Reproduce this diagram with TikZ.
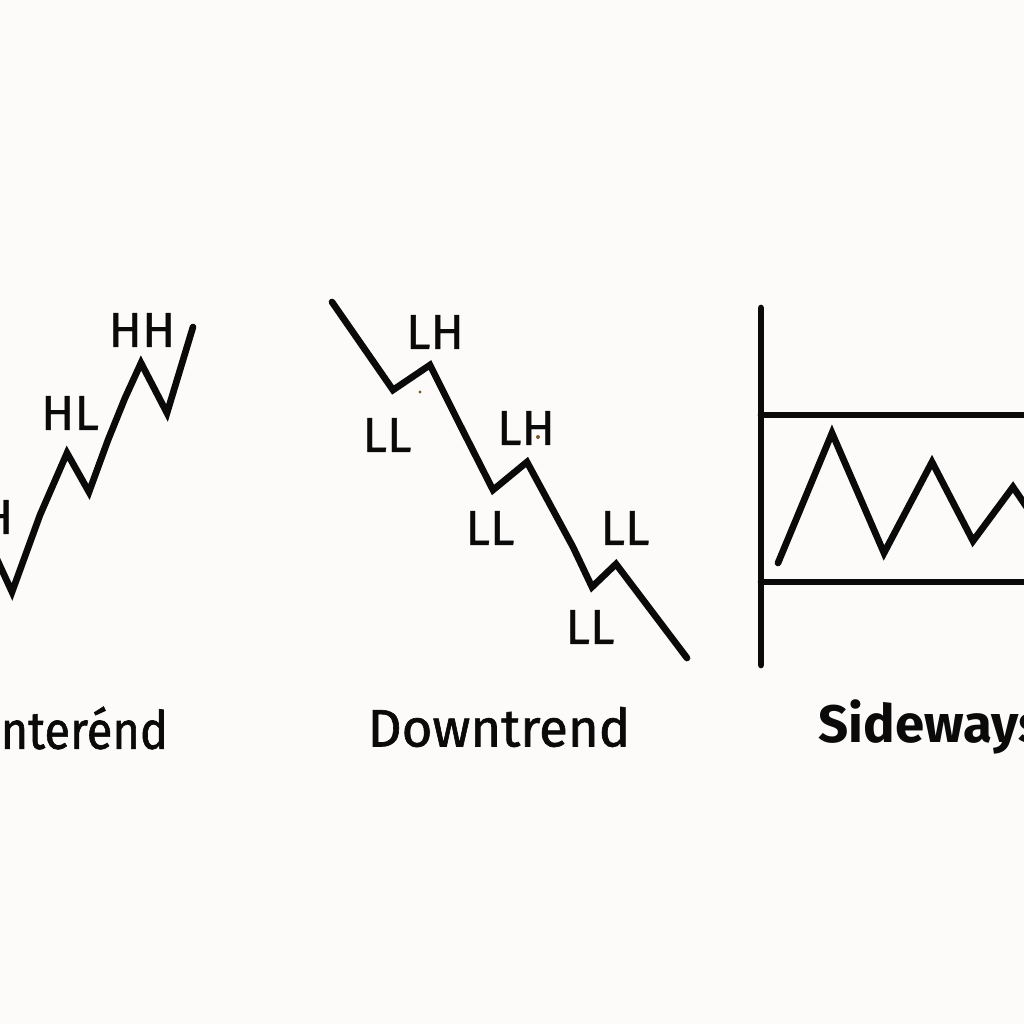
\documentclass[tikz,border=0pt]{standalone}
\usepackage{fontspec}
\setmainfont{Fira Sans}
\newfontfamily\titlefont[FakeBold=1.2]{Fira Sans}
\newfontfamily\labfont[FakeBold=0.6]{Fira Sans}
\definecolor{bg}{RGB}{252,251,249}
\definecolor{ink}{RGB}{10,10,10}
\definecolor{speck}{RGB}{120,90,40}
\tikzset{
  trend/.style={draw=ink,line width=1.9pt,line join=miter,line cap=round},
  frame/.style={draw=ink,line width=1.9pt,line cap=round},
  lab/.style={text=ink,font=\labfont\fontsize{14}{14}\selectfont,inner sep=0pt},
  title/.style={text=ink,font=\titlefont\fontsize{15}{15}\selectfont,inner sep=0pt},
}
\begin{document}
\begin{tikzpicture}[x=0.01cm,y=-0.01cm]
\useasboundingbox (0,0) rectangle (1024,1024);
\fill[bg] (0,0) rectangle (1024,1024);
\clip (0,0) rectangle (1024,1024);
% Uptrend
\draw[trend] (-5,555) -- (12,592) -- (40,515) -- (67,453) -- (89,492) -- (108,440) -- (125,398) -- (141,363) -- (167,413) -- (193,327);
\node[lab,anchor=east] (u0) at (14,517) {HH};
\node[lab] (u1) at (70,413) {HL};
\node[lab] (u2) at (142,330) {HH};
\node[title,anchor=west] (ut) at (0,728) {\scalebox{0.89}[1]{nterénd}};
% Downtrend
\draw[trend] (332,302) -- (393,390) -- (430,365) -- (460,425) -- (493,490) -- (527,462) -- (573,547) -- (592,587) -- (616,564) -- (687,658);
\node[lab] (d1) at (435,332) {LH};
\node[lab] (d2) at (387,435) {LL};
\node[lab] (d3) at (526,428) {LH};
\node[lab] (d4) at (490,528) {LL};
\node[lab] (d5) at (625,528) {LL};
\node[lab] (d6) at (590,627) {LL};
\node[title] (dt) at (499,727) {Downtrend};
\fill[speck] (420,392) circle (1.6);
\fill[speck] (538,437) circle (2);
% Sideways
\draw[frame] (761,308) -- (761,665);
\draw[frame] (761,415) -- (1030,415);
\draw[frame] (761,582) -- (1030,582);
\draw[trend] (778,563) -- (832,433) -- (884,553) -- (932,462) -- (973,541) -- (1013,487) -- (1030,512);
\node[title,anchor=west,font=\bfseries\fontsize{15}{15}\selectfont] (st) at (818,727) {Sideways};
\end{tikzpicture}
\end{document}
